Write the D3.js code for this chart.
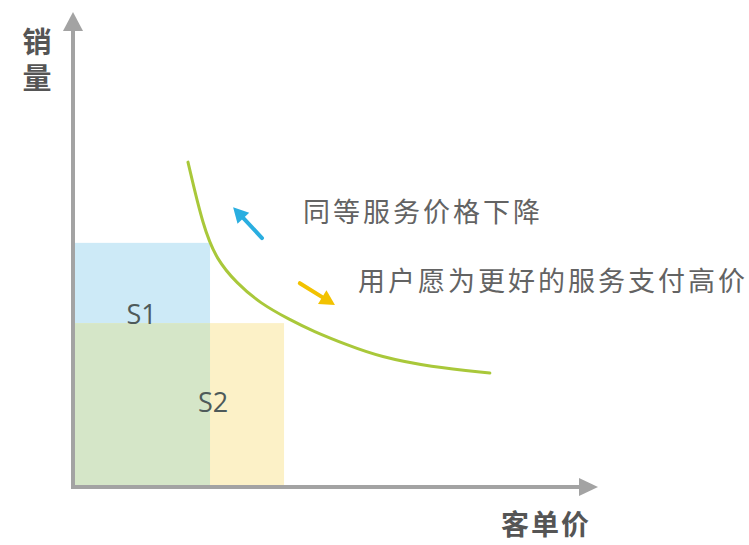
<!DOCTYPE html>
<html>
<head>
<meta charset="utf-8">
<script src="https://cdn.jsdelivr.net/npm/d3@7"></script>
<style>
  html, body { margin: 0; padding: 0; background: #ffffff; }
  svg { display: block; }
</style>
</head>
<body>
<script>
// Price / volume levels of the two service scenarios
const scenarioNames = ["S1", "S2"];
const scenarioPrice = [26.1, 40.2];   // 客单价
const scenarioVolume = [51.4, 34.5];  // 销量

// Demand curve (price -> volume)
const curvePrice  = [21.9, 24.8, 27.4, 31.2, 35.6, 41.3, 45.7, 52.2, 58.5, 68.0, 79.4];
const curveVolume = [68.4, 54.7, 47.8, 42.9, 38.7, 35.2, 32.8, 29.9, 27.4, 25.3, 24.0];

// Direction arrows along the curve: [price, volume] of tail and head
const arrowNames = ["降价", "提价"];
const arrowFrom = [[36.0, 52.4], [43.2, 42.9]];
const arrowTo   = [[30.5, 58.9], [49.9, 38.3]];

// Annotation texts
const noteTexts = ["同等服务价格下降", "用户愿为更好的服务支付高价"];
const axisTitleX = "客单价";
const axisTitleY = "销量";

const W = 749, H = 545;
const svg = d3.select("body").append("svg").attr("width", W).attr("height", H);

const x = d3.scaleLinear().domain([0, 100]).range([73, 598]);
const y = d3.scaleLinear().domain([0, 100]).range([487, 12]);

const colBlue = "#cdeaf7", colGreen = "#d5e6c8", colYellow = "#fcf1c7";

// Areas: S1 (blue), S2 (yellow), overlap (green)
const g = svg.append("g");
g.append("rect")
  .attr("x", x(0) + 2).attr("y", y(scenarioVolume[0]))
  .attr("width", x(scenarioPrice[0]) - x(0) - 2)
  .attr("height", y(0) - y(scenarioVolume[0]))
  .attr("fill", colBlue);
g.append("rect")
  .attr("x", x(0) + 2).attr("y", y(scenarioVolume[1]))
  .attr("width", x(scenarioPrice[1]) - x(0) - 2)
  .attr("height", y(0) - y(scenarioVolume[1]))
  .attr("fill", colYellow);
g.append("rect")
  .attr("x", x(0) + 2).attr("y", y(d3.min(scenarioVolume)))
  .attr("width", x(d3.min(scenarioPrice)) - x(0) - 2)
  .attr("height", y(0) - y(d3.min(scenarioVolume)))
  .attr("fill", colGreen);

// Area labels
const labelFont = "'Open Sans', 'Noto Sans', sans-serif";
g.append("text")
  .attr("x", (x(0) + x(scenarioPrice[0])) / 2)
  .attr("y", y(scenarioVolume[1]) - 10)
  .attr("text-anchor", "middle").attr("dominant-baseline", "central")
  .attr("font-family", labelFont).attr("font-size", 27)
  .attr("fill", "#4e5a5a").text(scenarioNames[0]);
g.append("text")
  .attr("x", x(scenarioPrice[0]) + 3)
  .attr("y", (y(scenarioVolume[1]) + y(0)) / 2 - 4)
  .attr("text-anchor", "middle").attr("dominant-baseline", "central")
  .attr("font-family", labelFont).attr("font-size", 27)
  .attr("fill", "#4e5a5a").text(scenarioNames[1]);

// Demand curve
const curveData = curvePrice.map((p, i) => [p, curveVolume[i]]);
svg.append("path")
  .datum(curveData)
  .attr("d", d3.line().x(d => x(d[0])).y(d => y(d[1])).curve(d3.curveBasis))
  .attr("fill", "none")
  .attr("stroke", "#a9c83a")
  .attr("stroke-width", 3)
  .attr("stroke-linecap", "round");

// Arrows
const arrowColors = ["#2aaee0", "#f2c200"];
arrowNames.forEach((name, i) => {
  const x0 = x(arrowFrom[i][0]), y0 = y(arrowFrom[i][1]);
  const x1 = x(arrowTo[i][0]), y1 = y(arrowTo[i][1]);
  const ang = Math.atan2(y1 - y0, x1 - x0);
  const headLen = 15, headW = 8;
  const bx = x1 - headLen * Math.cos(ang), by = y1 - headLen * Math.sin(ang);
  const ag = svg.append("g").attr("class", "arrow-" + i);
  ag.append("line")
    .attr("x1", x0).attr("y1", y0).attr("x2", bx).attr("y2", by)
    .attr("stroke", arrowColors[i]).attr("stroke-width", 4)
    .attr("stroke-linecap", "round");
  const px = -Math.sin(ang), py = Math.cos(ang);
  ag.append("path")
    .attr("d", `M${x1},${y1}L${bx + px * headW},${by + py * headW}L${bx - px * headW},${by - py * headW}Z`)
    .attr("fill", arrowColors[i]);
});

// Annotations
const cjk = "'Noto Sans CJK SC', 'Noto Sans', sans-serif";
const notePos = [[303, 210], [358, 279]];
noteTexts.forEach((t, i) => {
  svg.append("text")
    .attr("x", notePos[i][0]).attr("y", notePos[i][1])
    .attr("dominant-baseline", "central")
    .attr("font-family", cjk).attr("font-size", 27)
    .attr("letter-spacing", 3)
    .attr("fill", "#636363").text(t);
});

// Axes with arrow heads
const axisColor = "#a3a3a3";
const axes = svg.append("g");
axes.append("line")
  .attr("x1", x(0)).attr("y1", y(0) + 2).attr("x2", x(0)).attr("y2", y(100) + 16)
  .attr("stroke", axisColor).attr("stroke-width", 4);
axes.append("path")
  .attr("d", `M${x(0)},${y(100)}L${x(0) - 10},${y(100) + 19}L${x(0) + 10},${y(100) + 19}Z`)
  .attr("fill", axisColor);
axes.append("line")
  .attr("x1", x(0) - 2).attr("y1", y(0)).attr("x2", x(100) - 16).attr("y2", y(0))
  .attr("stroke", axisColor).attr("stroke-width", 4);
axes.append("path")
  .attr("d", `M${x(100)},${y(0)}L${x(100) - 19},${y(0) - 9}L${x(100) - 19},${y(0) + 9}Z`)
  .attr("fill", axisColor);

// Axis titles; the vertical one is set in vertical writing mode
svg.append("text")
  .attr("x", 37).attr("y", 27)
  .style("writing-mode", "vertical-rl")
  .style("text-orientation", "upright")
  .attr("letter-spacing", 7)
  .attr("font-family", cjk).attr("font-weight", 700).attr("font-size", 29)
  .attr("fill", "#555555").text(axisTitleY);
svg.append("text")
  .attr("x", 546).attr("y", 523)
  .attr("text-anchor", "middle").attr("dominant-baseline", "central")
  .attr("font-family", cjk).attr("font-weight", 700).attr("font-size", 28)
  .attr("letter-spacing", 2)
  .attr("fill", "#555555").text(axisTitleX);
</script>
</body>
</html>
